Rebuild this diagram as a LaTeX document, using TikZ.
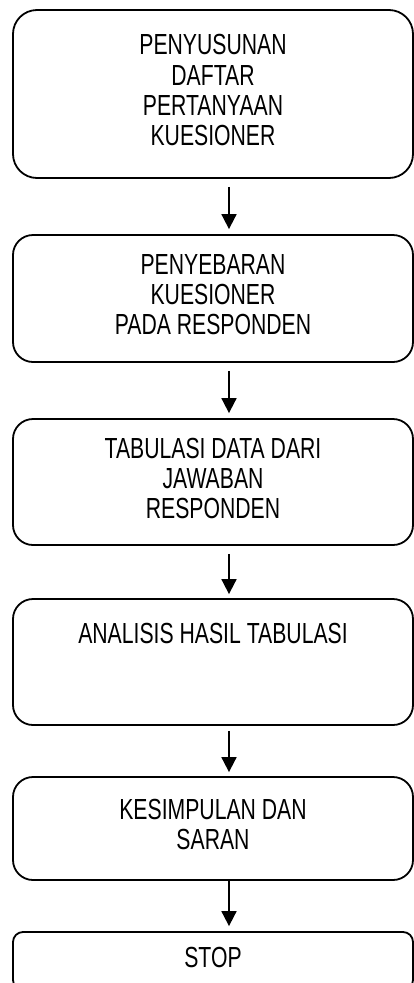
\documentclass[tikz,border=0pt]{standalone}
\usepackage{fontspec}
\setmainfont{Liberation Sans}
\usetikzlibrary{arrows.meta}
\newcommand{\boxtxt}[1]{\scalebox{1}[1.37]{\begin{tabular}{@{}c@{}}#1\end{tabular}}}
\tikzset{
  flowbox/.style={draw=black, line width=1.8pt, minimum width=400pt, inner sep=0pt,
    font=\fontsize{21.2}{21.9}\selectfont},
  flowarrow/.style={line width=1.8pt, -{Triangle[width=15pt,length=15pt]}},
}
\begin{document}
\begin{tikzpicture}[x=1pt,y=-1pt]
\useasboundingbox (0,0) rectangle (414,983);
\clip (0,0) rectangle (414,983);
\node[flowbox, rounded corners=24pt, minimum height=168pt] (b1) at (213,94)
  {\boxtxt{PENYUSUNAN\\DAFTAR\\PERTANYAAN\\KUESIONER}};
\node[flowbox, rounded corners=20pt, minimum height=127pt] (b2) at (213,298.5)
  {\boxtxt{PENYEBARAN\\KUESIONER\\PADA RESPONDEN}};
\node[flowbox, rounded corners=20pt, minimum height=126pt] (b3) at (213,482)
  {\boxtxt{TABULASI DATA DARI\\JAWABAN\\RESPONDEN}};
\node[flowbox, rounded corners=20pt, minimum height=126pt] (b4) at (213,662)
  {\boxtxt{ANALISIS HASIL TABULASI\\[36.5pt]}};
\node[flowbox, rounded corners=20pt, minimum height=103pt] (b5) at (213,828.5)
  {\boxtxt{KESIMPULAN DAN\\SARAN}};
\node[flowbox, rounded corners=10pt, minimum height=58pt] (b6) at (213,961)
  {\boxtxt{STOP}};
\draw[flowarrow, shorten <=8pt, shorten >=5pt] ([xshift=16pt]b1.south) -- ([xshift=16pt]b2.north);
\draw[flowarrow, shorten <=8pt, shorten >=5pt] ([xshift=16pt]b2.south) -- ([xshift=16pt]b3.north);
\draw[flowarrow, shorten <=8pt, shorten >=4pt] ([xshift=16pt]b3.south) -- ([xshift=16pt]b4.north);
\draw[flowarrow, shorten <=5pt, shorten >=4pt] ([xshift=16pt]b4.south) -- ([xshift=16pt]b5.north);
\draw[flowarrow, shorten <=0pt, shorten >=5pt] ([xshift=16pt]b5.south) -- ([xshift=16pt]b6.north);
\end{tikzpicture}
\end{document}
